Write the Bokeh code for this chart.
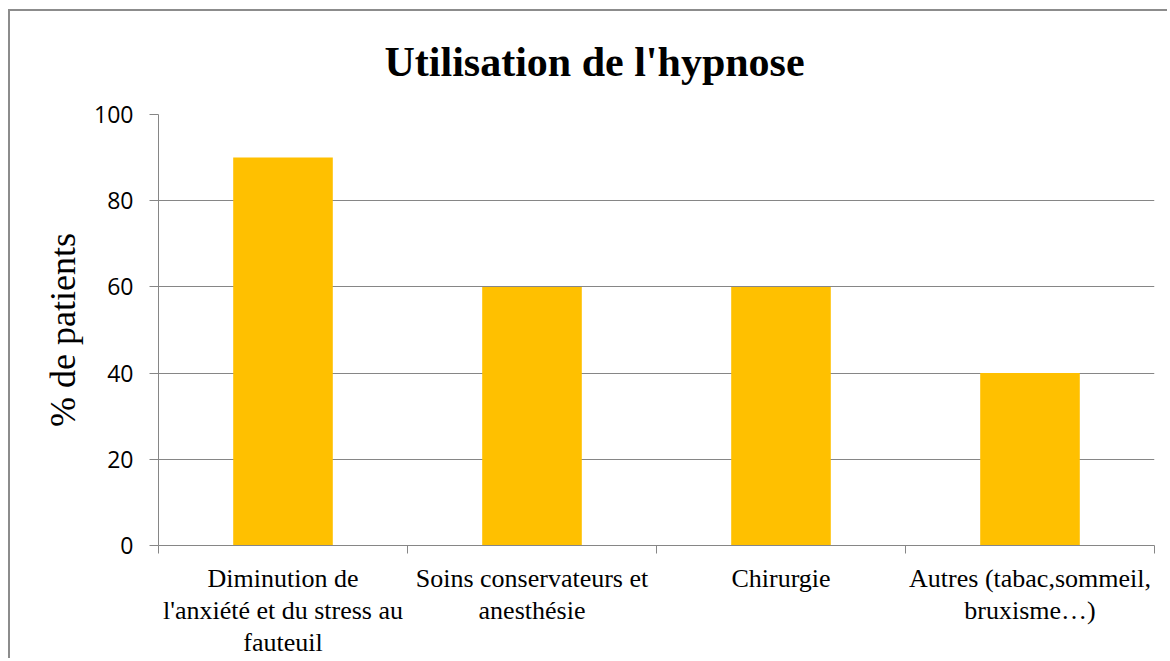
from bokeh.plotting import figure
from bokeh.models import Range1d, FixedTicker, LinearAxis
from bokeh.embed import file_html
from bokeh.resources import INLINE

# category labels, one list of text lines per category
categories = [
    ["Diminution de", "l'anxiété et du stress au", "fauteuil"],
    ["Soins conservateurs et", "anesthésie"],
    ["Chirurgie"],
    ["Autres (tabac,sommeil,", "bruxisme…)"],
]
values = [90, 60, 60, 40]
y_ticks = [0, 20, 40, 60, 80, 100]
title_text = "Utilisation de l'hypnose"
y_label = "% de patients"

GRID = "#868686"
BAR = "#FFC000"
SERIF = "Liberation Serif"
SANS = "Open Sans"

n = len(categories)
xs = [i + 0.5 for i in range(n)]
n_lines = max(len(c) for c in categories)

p = figure(width=1159, height=649, output_backend="svg", toolbar_location=None,
           x_range=Range1d(0, n), y_range=Range1d(0, 100),
           min_border_left=148, min_border_right=15, min_border_top=103, min_border_bottom=115,
           styles={"margin-left": "8px", "margin-top": "9px",
                   "border-top": "2px solid #8c8c8c", "border-left": "2px solid #8c8c8c"})
p.outline_line_color = None
p.background_fill_color = "white"
p.border_fill_color = "white"

p.vbar(x=xs, top=values, width=0.4, fill_color=BAR, line_color=None)

# title
p.title.text = title_text
p.title.align = "left"
p.title.vertical_align = "top"
p.title.offset = 226
p.title.text_font = SERIF
p.title.text_font_style = "bold"
p.title.text_font_size = "42px"
p.title.text_color = "black"
p.title.standoff = 55

# y axis
p.yaxis.ticker = FixedTicker(ticks=y_ticks)
p.yaxis.axis_line_color = GRID
p.yaxis.major_tick_line_color = GRID
p.yaxis.major_tick_out = 9
p.yaxis.major_tick_in = 0
p.yaxis.minor_tick_line_color = None
p.yaxis.major_label_text_font = SANS
p.yaxis.major_label_text_font_size = "23px"
p.yaxis.major_label_text_color = "black"
p.yaxis.major_label_standoff = 16
p.yaxis.axis_label = y_label
p.yaxis.axis_label_text_font = SERIF
p.yaxis.axis_label_text_font_style = "normal"
p.yaxis.axis_label_text_font_size = "36px"
p.yaxis.axis_label_text_color = "black"
p.yaxis.axis_label_standoff = 8


def line_labels(k):
    return {x: (c[k] if len(c) > k else "") for x, c in zip(xs, categories)}


# main x axis: first line of labels, ticks at category boundaries
p.xaxis.ticker = FixedTicker(ticks=xs, minor_ticks=list(range(n + 1)))
p.xaxis.major_label_overrides = line_labels(0)
p.xaxis.axis_line_color = GRID
p.xaxis.major_tick_line_color = None
p.xaxis.major_tick_out = 0
p.xaxis.major_tick_in = 0
p.xaxis.minor_tick_line_color = GRID
p.xaxis.minor_tick_out = 8
p.xaxis.minor_tick_in = 0
p.xaxis.major_label_text_font = SERIF
p.xaxis.major_label_text_font_size = "26px"
p.xaxis.major_label_text_color = "black"
p.xaxis.major_label_standoff = 10

# further label lines as plain label rows below
for k in range(1, n_lines):
    ax = LinearAxis(ticker=FixedTicker(ticks=xs), major_label_overrides=line_labels(k))
    ax.axis_line_color = None
    ax.major_tick_line_color = None
    ax.minor_tick_line_color = None
    ax.major_tick_out = 0
    ax.major_tick_in = 0
    ax.minor_tick_out = 0
    ax.minor_tick_in = 0
    ax.major_label_standoff = 0
    ax.major_label_text_font = SERIF
    ax.major_label_text_font_size = "26px"
    ax.major_label_text_color = "black"
    p.add_layout(ax, "below")

p.xgrid.grid_line_color = None
p.ygrid.ticker = FixedTicker(ticks=y_ticks[1:])
p.ygrid.grid_line_color = GRID
p.ygrid.grid_line_width = 1

open("out.html", "w").write(file_html(p, INLINE))
